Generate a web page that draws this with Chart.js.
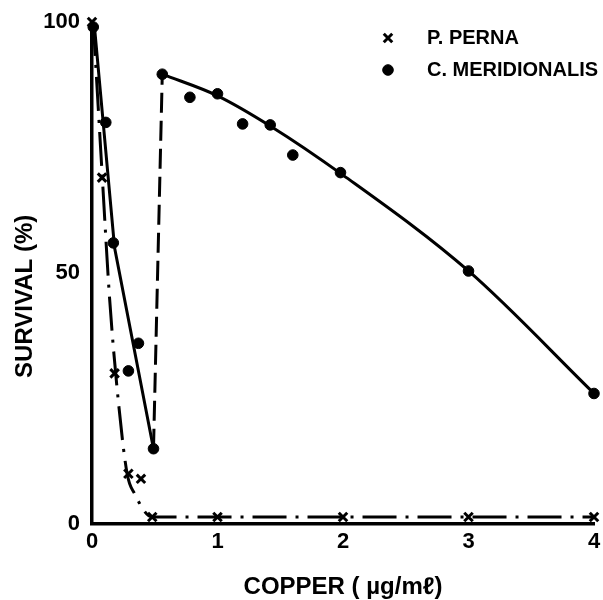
<!DOCTYPE html>
<html>
<head>
<meta charset="utf-8">
<title>Survival vs copper</title>
<script src="https://cdn.jsdelivr.net/npm/chart.js@4.4.1/dist/chart.umd.min.js"></script>
<style>
  html, body { margin: 0; padding: 0; background: #fff; }
  #wrap { width: 603px; height: 600px; }
</style>
</head>
<body>
<div id="wrap"><canvas id="chart" width="603" height="600"></canvas></div>
<script>
// measured points (copper ug/ml, survival %)
const pernaX = [0, 0.08, 0.18, 0.29, 0.39, 0.48, 1, 2, 3, 4];
const pernaY = [100, 69, 30, 10, 9, 1.4, 1.4, 1.4, 1.4, 1.4];
const meridX = [0.01, 0.11, 0.17, 0.29, 0.37, 0.49, 0.56, 0.78, 1.0, 1.2, 1.42, 1.6, 1.98, 3.0, 4.0];
const meridY = [99, 80, 56, 30.5, 36, 15, 89.6, 85, 85.7, 79.7, 79.5, 73.5, 70, 50.4, 26];

// hand drawn curves through the points
const pernaFitX = [0.01, 0.08, 0.14, 0.2, 0.28, 0.34, 0.48, 4];
const pernaFitY = [100, 70, 45, 27, 10, 6, 1.4, 1.4];
const meridLowFitX = [0.02, 0.18, 0.49];
const meridLowFitY = [99, 55, 15];
const jumpX = [0.49, 0.56];
const jumpY = [15, 89.6];
const meridHighFitX = [0.56, 1, 1.42, 2, 3, 4];
const meridHighFitY = [89.6, 85.3, 79.3, 69.5, 50.4, 26];

const xTicks = [0, 1, 2, 3, 4];
const yTicks = [0, 50, 100];

const labelPerna = 'P. PERNA';
const labelMerid = 'C. MERIDIONALIS';

const FONT = '"Liberation Sans", Arial, sans-serif';

function toPoints(xs, ys) {
    return xs.map((x, i) => ({ x: x, y: ys[i] }));
}

function curve(xs, ys, dash, smooth) {
    return {
        data: toPoints(xs, ys),
        showLine: true,
        borderColor: '#000',
        borderWidth: 3,
        borderDash: dash,
        borderCapStyle: 'butt',
        pointRadius: 0,
        cubicInterpolationMode: smooth ? 'monotone' : 'default',
        tension: 0,
        clip: false
    };
}

// small legend in the top right corner of the plot
const cornerLegend = {
    id: 'cornerLegend',
    afterDraw(chart) {
        const ctx = chart.ctx;
        const area = chart.chartArea;
        const items = chart.data.datasets.filter(d => d.inLegend);
        ctx.save();
        ctx.font = 'bold 20px ' + FONT;
        ctx.fillStyle = '#000';
        ctx.strokeStyle = '#000';
        ctx.textBaseline = 'middle';
        items.forEach((ds, i) => {
            const y = area.top + 16 + i * 32;
            const mx = area.left + 296;
            ctx.lineWidth = ds.borderWidth;
            Chart.helpers.drawPoint(ctx, {
                pointStyle: ds.pointStyle,
                radius: ds.pointRadius,
                borderWidth: ds.borderWidth,
                rotation: 0
            }, mx, y);
            ctx.fillText(ds.label, mx + 39, y);
        });
        ctx.restore();
    }
};

const ctx = document.getElementById('chart').getContext('2d');

new Chart(ctx, {
    type: 'scatter',
    data: {
        datasets: [
            curve(pernaFitX, pernaFitY, [34, 9, 3, 9], true),
            curve(meridLowFitX, meridLowFitY, [], false),
            curve(jumpX, jumpY, [20, 8], false),
            curve(meridHighFitX, meridHighFitY, [], true),
            {
                label: labelPerna,
                inLegend: true,
                data: toPoints(pernaX, pernaY),
                pointStyle: 'crossRot',
                pointRadius: 6,
                borderWidth: 3,
                borderColor: '#000',
                backgroundColor: '#000',
                clip: false
            },
            {
                label: labelMerid,
                inLegend: true,
                data: toPoints(meridX, meridY),
                pointStyle: 'circle',
                pointRadius: 5.3,
                borderWidth: 1,
                borderColor: '#000',
                backgroundColor: '#000',
                clip: false
            }
        ]
    },
    options: {
        responsive: false,
        animation: false,
        layout: { padding: { top: 22, right: 6, left: 0, bottom: 0 } },
        plugins: {
            legend: { display: false },
            tooltip: { enabled: false }
        },
        scales: {
            x: {
                type: 'linear',
                min: 0,
                max: 4,
                afterBuildTicks: s => { s.ticks = xTicks.map(v => ({ value: v })); },
                afterFit: s => { s.height = 76; },
                grid: { display: false },
                border: { color: '#000', width: 3.5 },
                ticks: { color: '#000', padding: -3, font: { family: FONT, size: 22, weight: 'bold' } },
                title: {
                    display: true,
                    text: 'COPPER ( µg/mℓ)',
                    color: '#000',
                    padding: { top: 0, bottom: -2 },
                    font: { family: FONT, size: 24, weight: 'bold' }
                }
            },
            y: {
                min: 0,
                max: 100,
                afterBuildTicks: s => { s.ticks = yTicks.map(v => ({ value: v })); },
                afterFit: s => { s.width = 92; },
                grid: { display: false },
                border: { color: '#000', width: 3.5 },
                ticks: { color: '#000', padding: 4, font: { family: FONT, size: 22, weight: 'bold' } },
                title: {
                    display: true,
                    text: 'SURVIVAL (%)       ',
                    color: '#000',
                    padding: { top: 11, bottom: 0 },
                    font: { family: FONT, size: 24, weight: 'bold' }
                }
            }
        }
    },
    plugins: [cornerLegend]
});
</script>
</body>
</html>
